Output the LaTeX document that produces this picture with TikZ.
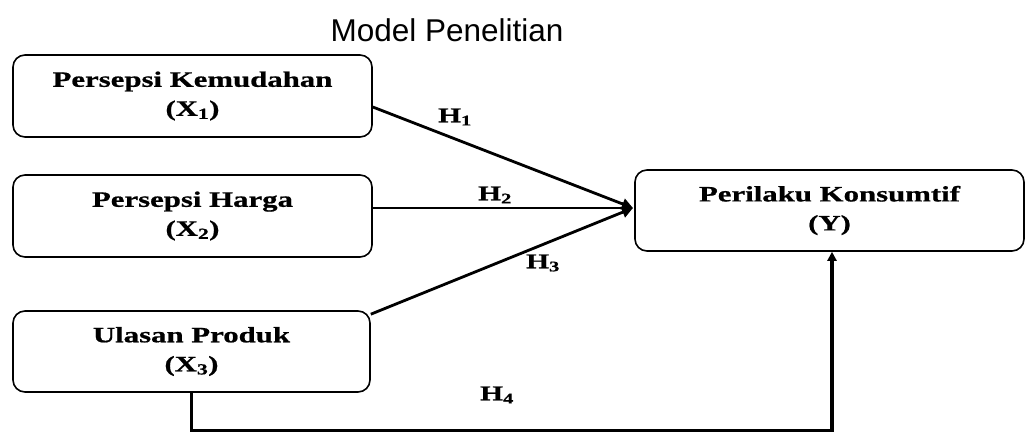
\documentclass[tikz,border=0pt]{standalone}
\usepackage{fontspec}
\setmainfont{Liberation Serif}
\newfontfamily\titlefont{Liberation Sans}
\newfontfamily\boxfont[FakeStretch=1.4, FakeBold=0.8]{Liberation Serif}
\usetikzlibrary{arrows.meta}
\tikzset{
  var/.style={draw, line width=1.6pt, rounded corners=12pt, align=center,
    font=\boxfont\bfseries\fontsize{22}{29}\selectfont, inner sep=0pt},
  conn/.style={line width=2.8pt},
  hlab/.style={font=\boxfont\bfseries\fontsize{21}{24}\selectfont, inner sep=0pt},
}
\begin{document}
\begin{tikzpicture}[x=1pt,y=-1pt]
\useasboundingbox (0,0) rectangle (1027,431);
\node[font=\titlefont\fontsize{31.5}{36}\selectfont, inner sep=0pt] (title) at (447,30) {Model Penelitian};
\node[var, minimum width=359pt, minimum height=82pt] (x1) at (192.5,96) {Persepsi Kemudahan\\(X\textsubscript{1})};
\node[var, minimum width=359pt, minimum height=82pt] (x2) at (192.5,216) {Persepsi Harga\\(X\textsubscript{2})};
\node[var, minimum width=357pt, minimum height=81pt] (x3) at (191.5,351.5) {Ulasan Produk\\(X\textsubscript{3})};
\node[var, minimum width=389pt, minimum height=81pt] (y) at (829.5,210.5) {Perilaku Konsumtif\\(Y)};
\coordinate (tip) at (633,208);
\coordinate (h4c) at (500,431);
\draw[conn, -{Triangle[length=11pt,width=11pt]}] ([yshift=-11pt]x1.east) -- (tip);
\draw[conn, -{Triangle[length=11pt,width=11pt]}] ([yshift=8pt]x2.east) -- (tip);
\draw[conn, -{Triangle[length=11pt,width=11pt]}] ([yshift=-4pt]x3.north east) -- (tip);
\draw[line width=3.6pt, -{Triangle[length=9pt,width=9pt]}] (x3.south) |- (h4c) -| ([xshift=2.5pt]y.south);
\node[hlab] (h1) at (455,117) {H\textsubscript{1}};
\node[hlab] (h2) at (495,195) {H\textsubscript{2}};
\node[hlab] (h3) at (543,263) {H\textsubscript{3}};
\node[hlab] (h4) at (497,395) {H\textsubscript{4}};
\end{tikzpicture}
\end{document}
